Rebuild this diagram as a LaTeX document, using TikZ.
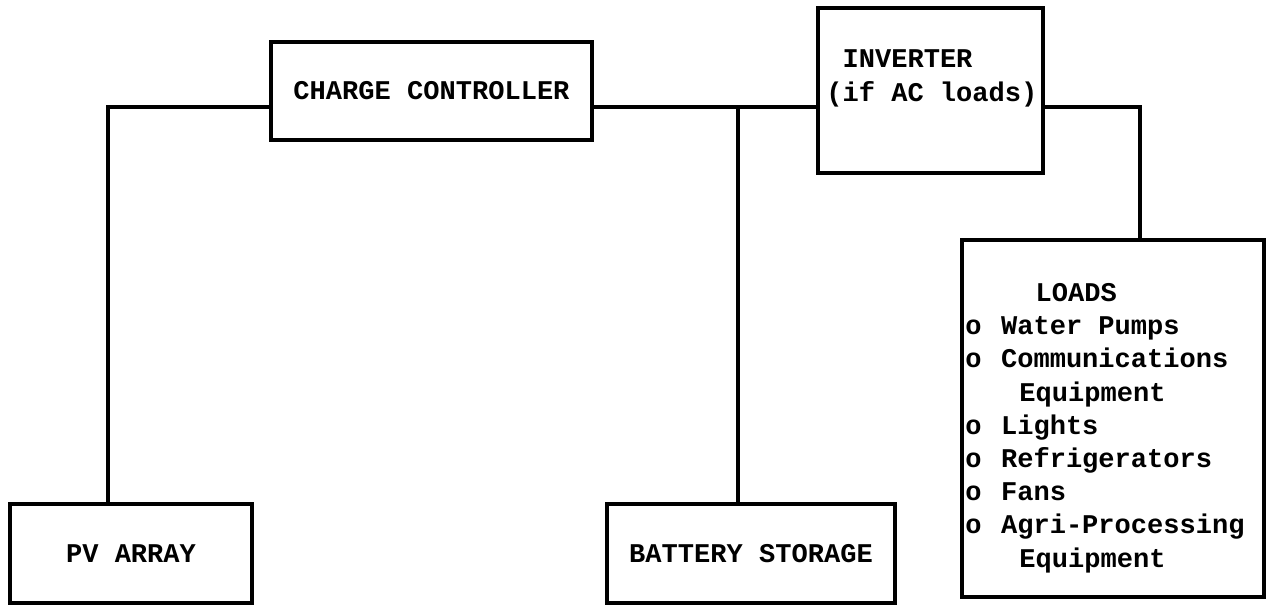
\documentclass[tikz,border=0pt]{standalone}
\usepackage{fontspec}
\setmonofont{Liberation Mono}
\usepackage{tikz}

\newcommand{\itm}{o\hspace{0.72em}}

\begin{document}
\begin{tikzpicture}[
    x=0.02cm, y=-0.02cm,
    box/.style={rectangle, draw, line width=2pt, inner sep=0.12cm,
        font=\ttfamily\bfseries\fontsize{15.4pt}{18.9pt}\selectfont},
    txt/.style={inner sep=0pt, align=left,
        font=\ttfamily\bfseries\fontsize{15.4pt}{18.9pt}\selectfont},
    wire/.style={line width=2pt}
]
    \useasboundingbox (0,0) rectangle (1275,607);

    % Top row
    \node[box, minimum width=6.42cm, minimum height=1.96cm] (cc) at (431.5,91) {CHARGE CONTROLLER};
    \node[box, minimum width=4.5cm, minimum height=3.3cm] (inv) at (930.5,90.5) {};
    \node[txt, anchor=north west] (invtxt) at (826,48) {\phantom{(}INVERTER\\(if AC loads)};

    % Bottom row
    \node[box, minimum width=4.84cm, minimum height=1.98cm] (pv) at (131,553.5) {PV ARRAY};
    \node[box, minimum width=5.76cm, minimum height=1.98cm] (bat) at (751,553.5) {BATTERY STORAGE};

    % Loads
    \node[box, minimum width=6.04cm, minimum height=7.14cm] (loads) at (1113,418.5) {};
    \node[txt, anchor=north west] (loadstxt) at (965,283)
        {\hspace*{2.6em}LOADS\\
         \itm Water Pumps\\
         \itm Communications\\
         \hspace*{2em}Equipment\\
         \itm Lights\\
         \itm Refrigerators\\
         \itm Fans\\
         \itm Agri-Processing\\
         \hspace*{2em}Equipment};

    % Junctions
    \coordinate (jpv) at (108,107);
    \coordinate (jbat) at (738,107);
    \coordinate (jld) at (1140,107);

    % Wires
    \draw[wire] (pv.north -| jpv) -- (jpv) -- (cc.west |- jpv);
    \draw[wire] (cc.east |- jbat) -- (inv.west |- jbat);
    \draw[wire] (bat.north -| jbat) -- (jbat);
    \draw[wire] (inv.east |- jld) -- (jld) -- (loads.north -| jld);
\end{tikzpicture}
\end{document}
